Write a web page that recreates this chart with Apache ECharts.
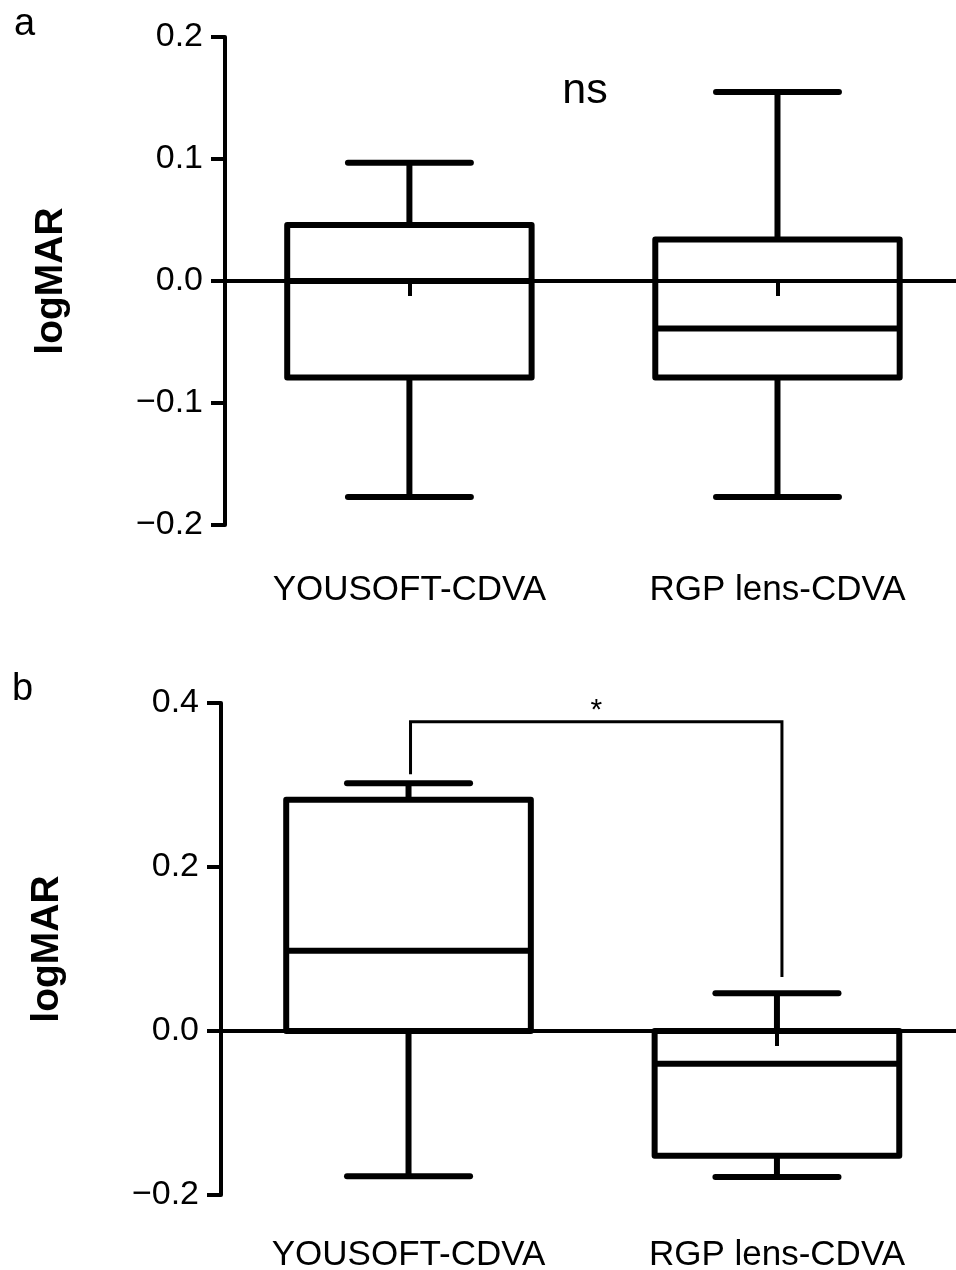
<!DOCTYPE html>
<html>
<head>
<meta charset="utf-8">
<script src="https://cdn.jsdelivr.net/npm/echarts@6/dist/echarts.min.js"></script>
<style>
html,body{margin:0;padding:0;background:#fff;}
#c{width:956px;height:1270px;}
</style>
</head>
<body>
<div id="c"></div>
<script>
// ---------- data ----------
const categories = ['YOUSOFT-CDVA', 'RGP lens-CDVA'];

// panel a (box: min, Q1, median, Q3, max)
const aMin    = [-0.177, -0.177];
const aQ1     = [-0.079, -0.079];
const aMedian = [0.000, -0.039];
const aQ3     = [0.046, 0.034];
const aMax    = [0.097, 0.155];

// panel b
const bMin    = [-0.177, -0.178];
const bQ1     = [0.000, -0.152];
const bMedian = [0.098, -0.040];
const bQ3     = [0.282, 0.000];
const bMax    = [0.302, 0.046];

// axis ranges / tick steps
const aAxis = { min: -0.2, max: 0.2, interval: 0.1 };
const bAxis = { min: -0.2, max: 0.4, interval: 0.2 };

// significance bracket in panel b: [left leg bottom, top, right leg bottom]
const bBracket = [0.313, 0.377, 0.066];
const bSignif = '*';
const aSignif = 'ns';

// ---------- helpers ----------
const FONT = '"Liberation Sans", Arial, Helvetica, sans-serif';
const catIdx = categories.map((c, i) => i);

function boxData(mn, q1, md, q3, mx) {
  return categories.map((c, i) => [i, mn[i], q1[i], md[i], q3[i], mx[i]]);
}

function renderBox(params, api) {
  const x = api.value(0);
  const pMin = api.coord([x, api.value(1)]);
  const pQ1  = api.coord([x, api.value(2)]);
  const pMed = api.coord([x, api.value(3)]);
  const pQ3  = api.coord([x, api.value(4)]);
  const pMax = api.coord([x, api.value(5)]);
  const band = api.size([1, 0])[0];
  const hw = band * 0.332;
  const hc = band * 0.167;
  const cx = pMed[0];
  const ls = { stroke: '#000', lineWidth: 6, lineCap: 'butt' };
  const cap = { stroke: '#000', lineWidth: 6, lineCap: 'round' };
  return {
    type: 'group',
    children: [
      { type: 'line', shape: { x1: cx, y1: pQ3[1], x2: cx, y2: pMax[1] }, style: ls },
      { type: 'line', shape: { x1: cx, y1: pQ1[1], x2: cx, y2: pMin[1] }, style: ls },
      { type: 'line', shape: { x1: cx - hc, y1: pMax[1], x2: cx + hc, y2: pMax[1] }, style: cap },
      { type: 'line', shape: { x1: cx - hc, y1: pMin[1], x2: cx + hc, y2: pMin[1] }, style: cap },
      { type: 'rect', shape: { x: cx - hw, y: pQ3[1], width: 2 * hw, height: pQ1[1] - pQ3[1] },
        style: { stroke: '#000', lineWidth: 6, fill: 'none', lineJoin: 'round' } },
      { type: 'line', shape: { x1: cx - hw, y1: pMed[1], x2: cx + hw, y2: pMed[1] }, style: ls }
    ]
  };
}

function renderBracket(params, api) {
  const p1 = api.coord([0, api.value(0)]);
  const p2 = api.coord([0, api.value(1)]);
  const p3 = api.coord([1, api.value(1)]);
  const p4 = api.coord([1, api.value(2)]);
  const off = 2;
  p1[0] += off; p2[0] += off; p3[0] += off + 3; p4[0] += off + 3;
  return {
    type: 'group',
    children: [
      { type: 'polyline', shape: { points: [p1, p2, p3, p4] },
        style: { stroke: '#000', lineWidth: 3, fill: 'none', lineJoin: 'miter' } },
      { type: 'text', x: (p2[0] + p3[0]) / 2, y: p2[1] - 11,
        style: { text: bSignif, font: '30px ' + FONT, fill: '#000', align: 'center', verticalAlign: 'middle' } }
    ]
  };
}

const tickFmt = v => v.toFixed(1).replace('-', '\u2212');

function yAxisFor(gridIndex, ax) {
  return {
    type: 'value', gridIndex, position: 'left',
    min: ax.min, max: ax.max, interval: ax.interval,
    name: 'logMAR', nameLocation: 'middle', nameRotate: 90, nameGap: 154,
    nameTextStyle: { fontFamily: FONT, fontWeight: 'bold', fontSize: 39, color: '#000' },
    axisLine: { show: true, onZero: false, lineStyle: { color: '#000', width: 4 } },
    axisTick: { show: true, inside: false, length: 14, lineStyle: { color: '#000', width: 4 } },
    axisLabel: { formatter: tickFmt, margin: 22, color: '#000', fontFamily: FONT, fontSize: 34 },
    splitLine: { show: false }
  };
}

function zeroXAxis(gridIndex, xr) {
  return {
    type: 'value', gridIndex, min: xr[0], max: xr[1], position: 'bottom',
    axisLine: { show: true, onZero: true, lineStyle: { color: '#000', width: 4 } },
    axisTick: { show: true, inside: false, length: 15, customValues: catIdx, lineStyle: { color: '#000', width: 4 } },
    axisLabel: { show: false },
    splitLine: { show: false }
  };
}

function labelXAxis(gridIndex, xr, margin) {
  return {
    type: 'value', gridIndex, min: xr[0], max: xr[1], position: 'bottom',
    axisLine: { show: false, onZero: false },
    axisTick: { show: false },
    axisLabel: { show: true, margin, customValues: catIdx, formatter: v => categories[Math.round(v)],
                 color: '#000', fontFamily: FONT, fontSize: 35 },
    splitLine: { show: false }
  };
}

// x-range of each panel (category index space)
const aXRange = [-0.501, 1.485];
const bXRange = [-0.509, 1.486];

const chart = echarts.init(document.getElementById('c'), null, { renderer: 'canvas' });
chart.setOption({
  backgroundColor: '#fff',
  animation: false,
  grid: [
    { left: 225, top: 37, right: 0, height: 488, containLabel: false, outerBoundsMode: 'none' },
    { left: 221, top: 703, right: 0, height: 492, containLabel: false, outerBoundsMode: 'none' }
  ],
  xAxis: [zeroXAxis(0, aXRange), labelXAxis(0, aXRange, 48), zeroXAxis(1, bXRange), labelXAxis(1, bXRange, 43)],
  yAxis: [yAxisFor(0, aAxis), yAxisFor(1, bAxis)],
  graphic: [
    { type: 'text', x: 14, y: 25, style: { text: 'a', font: '38px ' + FONT, fill: '#000', align: 'left', verticalAlign: 'middle' } },
    { type: 'text', x: 12, y: 690, style: { text: 'b', font: '38px ' + FONT, fill: '#000', align: 'left', verticalAlign: 'middle' } },
    { type: 'text', x: 585, y: 91, style: { text: aSignif, font: '43px ' + FONT, fill: '#000', align: 'center', verticalAlign: 'middle' } }
  ],
  series: [
    { type: 'custom', xAxisIndex: 0, yAxisIndex: 0, renderItem: renderBox,
      encode: { x: 0, y: [1, 2, 3, 4, 5] }, data: boxData(aMin, aQ1, aMedian, aQ3, aMax), z: 3 },
    { type: 'custom', xAxisIndex: 2, yAxisIndex: 1, renderItem: renderBox,
      encode: { x: 0, y: [1, 2, 3, 4, 5] }, data: boxData(bMin, bQ1, bMedian, bQ3, bMax), z: 3 },
    { type: 'custom', xAxisIndex: 2, yAxisIndex: 1, renderItem: renderBracket,
      encode: { y: [0, 1, 2] }, data: [bBracket], z: 3 }
  ]
});
</script>
</body>
</html>
